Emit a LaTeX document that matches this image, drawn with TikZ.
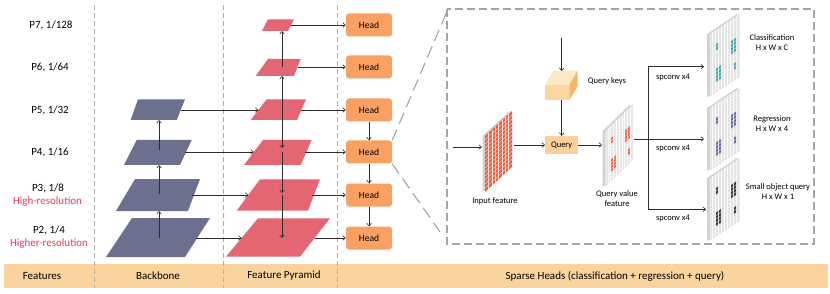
\documentclass[tikz,border=0pt]{standalone}
\usepackage{fontspec}
\setmainfont{Carlito}
\usetikzlibrary{arrows.meta}
\definecolor{slate}{RGB}{108,111,141}
\definecolor{fpnc}{RGB}{228,102,114}
\definecolor{headc}{RGB}{251,160,99}
\definecolor{barc}{RGB}{250,211,157}
\definecolor{queryc}{RGB}{252,208,152}
\definecolor{cubefront}{RGB}{252,214,162}
\definecolor{cubetop}{RGB}{254,231,199}
\definecolor{cuberight}{RGB}{248,181,98}
\definecolor{inred}{RGB}{250,90,62}
\definecolor{tealc}{RGB}{72,170,175}
\definecolor{regc}{RGB}{106,108,160}
\definecolor{smallc}{RGB}{60,60,60}
\definecolor{panelc}{RGB}{226,226,226}
\definecolor{paneledge}{RGB}{208,208,208}
\definecolor{sepc}{RGB}{175,175,175}
\definecolor{boxc}{RGB}{165,165,165}
\definecolor{arrowc}{RGB}{45,45,45}
\definecolor{hirc}{RGB}{232,56,94}
\newcommand{\panelbody}[1]{%
  \begin{scope}[xshift=-2.4pt]
    \fill[paneledge] (0,0)--(1,0)--(1,1)--(0,1)--cycle;
  \end{scope}
  \fill[#1] (0,0)--(1,0)--(1,1)--(0,1)--cycle;
}
\newcommand{\panelgrid}[2]{%
  \pgfmathtruncatemacro{\myNc}{#1-1}%
  \pgfmathtruncatemacro{\myNr}{#2-1}%
  \foreach \i in {1,...,\myNc} {\draw[gridln] ({\i/#1},0) -- ({\i/#1},1);}
  \foreach \j in {1,...,\myNr} {\draw[gridln] (0,{\j/#2}) -- (1,{\j/#2});}
}
\newcommand{\cellq}[5]{\fill[#5] (#1,#2)--(#3,#2)--(#3,#4)--(#1,#4)--cycle;}
\newcommand{\hcells}[1]{%
  \cellq{0.2}{0.2222}{0.3}{0.3333}{#1}
  \cellq{0.7}{0.3333}{0.9}{0.5556}{#1}
  \cellq{0.2}{0.6111}{0.4}{0.8333}{#1}
  \cellq{0.8}{0.7222}{0.9}{0.8333}{#1}
}
\begin{document}
\begin{tikzpicture}[x=1pt,y=-1pt,
  arr/.style={draw=arrowc, line width=0.6pt, -{Straight Barb[length=2.6pt,width=4.6pt]}},
  sep/.style={draw=sepc, line width=0.8pt, dash pattern=on 5pt off 3pt},
  boxline/.style={draw=boxc, line width=1.1pt, dash pattern=on 8pt off 4pt},
  zoomline/.style={draw=boxc, line width=1.1pt, dash pattern=on 12pt off 6pt},
  gridln/.style={draw=white, draw opacity=0.8, line width=0.35pt},
  headbox/.style={fill=headc, rounded corners=3pt, minimum width=46pt, minimum height=23pt, inner sep=0pt, font=\fontsize{9.5}{11}\selectfont},
  lbl/.style={font=\fontsize{11}{13}\selectfont, inner sep=0pt},
  hires/.style={lbl, text=hirc},
  small/.style={font=\fontsize{8.5}{10}\selectfont, inner sep=0pt, align=center}
]
\useasboundingbox (0,0) rectangle (830,294);
\fill[white] (0,0) rectangle (830,294);

% bottom bar
\fill[barc] (4,263.5) rectangle (828,287.5);
\node[lbl] (tFeat) at (42,276) {Features};
\node[lbl] (tBack) at (158,276) {Backbone};
\node[lbl] (tFpn) at (284,276) {Feature Pyramid};
\node[lbl] (tSparse) at (615,276) {Sparse Heads (classification + regression + query)};

% separators
\coordinate (s1a) at (94.5,5); \coordinate (s1b) at (94.5,288);
\coordinate (s2a) at (223.5,5); \coordinate (s2b) at (223.5,288);
\coordinate (s3a) at (337,5); \coordinate (s3b) at (337,288);
\draw[sep] (s1a) -- (s1b);
\draw[sep] (s2a) -- (s2b);
\draw[sep] (s3a) -- (s3b);

% left labels
\node[lbl] (l7) at (51,25) {P7, 1/128};
\node[lbl] (l6) at (50,67) {P6, 1/64};
\node[lbl] (l5) at (50,110) {P5, 1/32};
\node[lbl] (l4) at (50,152) {P4, 1/16};
\node[lbl] (l3) at (48,188) {P3, 1/8};
\node[hires] (l3b) at (47.5,202) {High-resolution};
\node[lbl] (l2) at (49,230) {P2, 1/4};
\node[hires] (l2b) at (49,244) {Higher-resolution};

% backbone layers
\fill[slate] (138,99.3) -- (185,99.3) -- (176.7,120) -- (130.7,120) -- cycle;
\fill[slate] (136.7,140) -- (191.7,140) -- (180,165) -- (124,165) -- cycle;
\fill[slate] (135,179) -- (200,179) -- (188,211) -- (116,211) -- cycle;
\fill[slate] (132,218) -- (210,218) -- (185,257) -- (106,257) -- cycle;

% feature pyramid layers
\fill[fpnc] (268,19.3) -- (294,19.3) -- (288,31) -- (262,31) -- cycle;
\fill[fpnc] (268,59) -- (300.7,59) -- (294,76) -- (255.7,76) -- cycle;
\fill[fpnc] (266.7,99.3) -- (306,99.3) -- (297,120) -- (250.7,120) -- cycle;
\fill[fpnc] (263,140) -- (311.7,140) -- (300.7,165) -- (244,165) -- cycle;
\fill[fpnc] (260,179.3) -- (320,179.3) -- (308,210.7) -- (236.7,210.7) -- cycle;
\fill[fpnc] (258,218.3) -- (330,218.3) -- (300,256.7) -- (226,256.7) -- cycle;

% backbone coordinates
\coordinate (b2c) at (159,238); \coordinate (b3bot) at (159,211);
\coordinate (b3c) at (159,194); \coordinate (b4bot) at (159,165);
\coordinate (b4c) at (159,150); \coordinate (b5bot) at (159,120);
\coordinate (b5r) at (180.7,110); \coordinate (b4r) at (185,152);
\coordinate (b3r) at (192,195); \coordinate (b2r) at (196,238);
% fpn coordinates
\coordinate (f5l) at (258.4,110); \coordinate (f4l) at (253.9,152);
\coordinate (f3l) at (248.3,195); \coordinate (f2l) at (241.6,238);
\coordinate (f7r) at (291,25); \coordinate (f6r) at (297.5,67);
\coordinate (f5r) at (301.3,110); \coordinate (f4r) at (305,152);
\coordinate (f3r) at (312,195); \coordinate (f2r) at (314.6,238);
\coordinate (f7bot) at (282,31); \coordinate (f6bot) at (282,76);
\coordinate (f6c) at (282,67); \coordinate (f5c) at (282,110);
\coordinate (f4c) at (282,148); \coordinate (f4s) at (282,152);
\coordinate (f3c) at (282,193); \coordinate (f3s) at (282,195);
\coordinate (f2c) at (282,238);

% backbone arrows
\draw[arr] (b2c) -- (b3bot);
\draw[arr] (b3c) -- (b4bot);
\draw[arr] (b4c) -- (b5bot);
\draw[arr] (b5r) -- (f5l);
\draw[arr] (b4r) -- (f4l);
\draw[arr] (b3r) -- (f3l);
\draw[arr] (b2r) -- (f2l);
% fpn arrows
\draw[arr] (f5c) -- (f6bot);
\draw[arr] (f6c) -- (f7bot);
\draw[arr] (f5c) -- (f4c);
\draw[arr] (f4s) -- (f3c);
\draw[arr] (f3s) -- (f2c);

% heads
\node[headbox] (h7) at (369,25) {Head};
\node[headbox] (h6) at (369,67) {Head};
\node[headbox] (h5) at (369,110) {Head};
\node[headbox] (h4) at (369,152) {Head};
\node[headbox] (h3) at (369,195) {Head};
\node[headbox] (h2) at (369,238) {Head};
\draw[arr] (f7r) -- (h7.west);
\draw[arr] (f6r) -- (h6.west);
\draw[arr] (f5r) -- (h5.west);
\draw[arr] (f4r) -- (h4.west);
\draw[arr] (f3r) -- (h3.west);
\draw[arr] (f2r) -- (h2.west);
\draw[arr] (h5.south) -- (h4.north);
\draw[arr] (h4.south) -- (h3.north);
\draw[arr] (h3.south) -- (h2.north);

% zoom box
\coordinate (zA) at (448,9);
\coordinate (zB) at (440,232);
\draw[zoomline] (h4.north east) -- (zA);
\draw[zoomline] (h4.south east) -- (zB);
\draw[boxline] (447,9) rectangle (814,244);

% input feature
\begin{scope}[shift={(485,136)}, x={(27pt,25pt)}, y={(0pt,-56pt)}]
  \panelbody{inred}
  \panelgrid{8}{14}
\end{scope}
\node[small] (tin) at (495,201) {Input feature};
\coordinate (inS) at (453,147); \coordinate (inE) at (482,147);
\draw[arr] (inS) -- (inE);

% query keys cube
\fill[cubefront] (545,85) -- (569.3,85) -- (569.3,100) -- (545,100) -- cycle;
\fill[cubetop] (545,85) -- (553.3,71) -- (577.6,71) -- (569.3,85) -- cycle;
\fill[cuberight] (569.3,85) -- (577.6,71) -- (577.6,86) -- (569.3,100) -- cycle;
\node[small] (tkeys) at (607,81) {Query keys};
\coordinate (keyin) at (561.7,38); \coordinate (keytop) at (561.7,71);
\coordinate (keybot) at (561.7,100);
\draw[arr] (keyin) -- (keytop);

% query
\node[fill=queryc, minimum width=33pt, minimum height=18pt, inner sep=0pt, font=\fontsize{8.5}{10}\selectfont] (q) at (561.7,145) {Query};
\draw[arr] (keybot) -- (q.north);
\coordinate (inR) at (514,145);
\draw[arr] (inR) -- (q.west);

% query value feature
\begin{scope}[shift={(605,131)}, x={(28pt,27pt)}, y={(0pt,-56pt)}]
  \panelbody{panelc}
  \hcells{inred}
  \panelgrid{10}{18}
\end{scope}
\node[small] (tqv) at (617,199) {Query value\\feature};
\coordinate (qvW) at (602,145);
\draw[arr] (q.east) -- (qvW);

% outputs
\begin{scope}[shift={(709.5,34)}, x={(30pt,20pt)}, y={(0pt,-63pt)}]
  \panelbody{panelc}
  \hcells{tealc}
  \panelgrid{10}{18}
\end{scope}
\begin{scope}[shift={(709.5,108)}, x={(30pt,20pt)}, y={(0pt,-63pt)}]
  \panelbody{panelc}
  \hcells{regc}
  \panelgrid{10}{18}
\end{scope}
\begin{scope}[shift={(709.5,178)}, x={(30pt,20pt)}, y={(0pt,-63pt)}]
  \panelbody{panelc}
  \hcells{smallc}
  \panelgrid{10}{18}
\end{scope}
\node[small] (tcls) at (772,42.5) {Classification\\H x W x C};
\node[small] (treg) at (772,123.5) {Regression\\H x W x 4};
\node[small] (tsm) at (778,191.5) {Small object query\\H x W x 1};

\coordinate (qvE) at (634,139);
\coordinate (sp) at (648,139);
\coordinate (clsW) at (704,66.7);
\coordinate (regW) at (704,139);
\coordinate (smW) at (706,209.3);
\draw[arr] (qvE) -- (regW);
\draw[arr] (sp) |- (clsW);
\draw[arr] (sp) |- (smW);
\node[small] (sc1) at (673,77.5) {spconv x4};
\node[small] (sc2) at (673,148) {spconv x4};
\node[small] (sc3) at (673,218) {spconv x4};
\end{tikzpicture}
\end{document}
